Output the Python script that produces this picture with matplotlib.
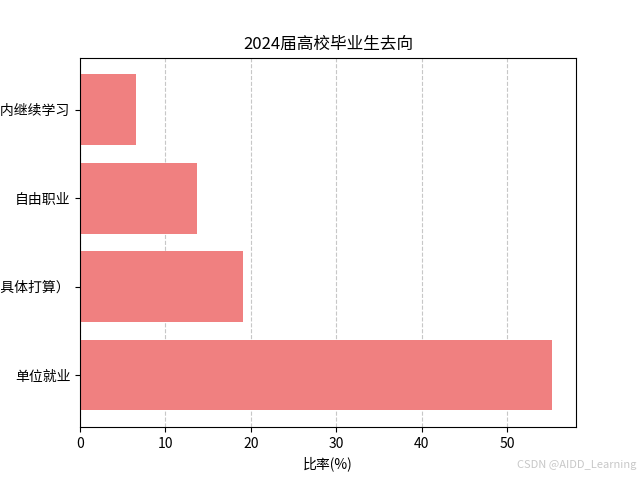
import matplotlib
matplotlib.use("Agg")
import matplotlib.pyplot as plt

plt.rcParams['font.family'] = ['Noto Sans CJK SC', 'DejaVu Sans']
plt.rcParams['axes.unicode_minus'] = False

# data (bottom to top)
categories = ["单位就业", "待就业（暂无具体打算）", "自由职业", "国内继续学习"]
rates = [55.3, 19.1, 13.7, 6.5]

fig, ax = plt.subplots(figsize=(6.4, 4.8), dpi=100)
ax.barh(categories, rates, color="lightcoral")
ax.set_title("2024届高校毕业生去向")
ax.set_xlabel("比率(%)")
ax.grid(axis="x", linestyle="--", alpha=0.7)
ax.set_axisbelow(True)

fig.text(0.995, 0.02, "CSDN @AIDD_Learning", ha="right", va="bottom",
         fontsize=8, color="#c8c8c8")

fig.savefig("out.png", dpi=100)
